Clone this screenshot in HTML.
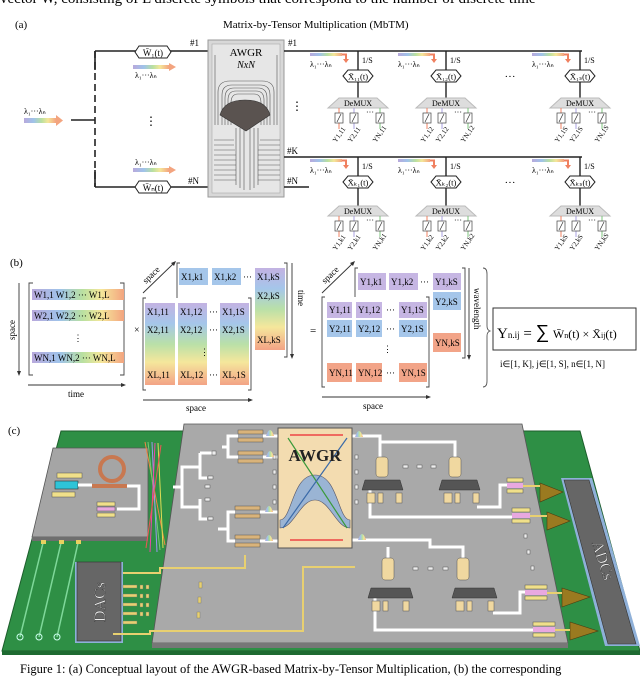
<!DOCTYPE html>
<html><head><meta charset="utf-8"><style>
html,body{margin:0;padding:0;background:#fff;}
svg{display:block;font-family:"Liberation Serif",serif;}
</style></head><body>
<svg width="640" height="676" viewBox="0 0 640 676" xmlns="http://www.w3.org/2000/svg">
<defs>
<linearGradient id="rb" x1="0" y1="0" x2="1" y2="0">
<stop offset="0" stop-color="#b8a9dc"/><stop offset="0.3" stop-color="#9fc3ea"/><stop offset="0.55" stop-color="#b9e0a0"/><stop offset="0.75" stop-color="#f5e79a"/><stop offset="1" stop-color="#f3a47f"/></linearGradient>
<linearGradient id="rv" x1="0" y1="0" x2="0" y2="1">
<stop offset="0" stop-color="#c3b2e2"/><stop offset="0.25" stop-color="#a5c6ea"/><stop offset="0.5" stop-color="#b9e0a8"/><stop offset="0.72" stop-color="#f5e79c"/><stop offset="1" stop-color="#f3a386"/></linearGradient>
</defs>

<text x="0" y="3" font-size="15">vector W, consisting of L discrete symbols that correspond to the number of discrete time</text>

<text x="15" y="28" font-size="11">(a)</text>
<text x="223" y="28" font-size="11">Matrix-by-Tensor Multiplication (MbTM)</text>

<rect x="24" y="118" width="32" height="5" fill="url(#rb)"/>
<polygon points="56,115 63,120.5 56,126" fill="#f3a47f"/>
<text x="24" y="114" font-size="8">λ₁···λₙ</text>
<line x1="71" y1="120" x2="95" y2="120" stroke="#222" stroke-width="1.6"/>
<line x1="95" y1="51" x2="95" y2="187" stroke="#222" stroke-width="1.6" stroke-dasharray="7,4"/>
<line x1="95" y1="51" x2="95" y2="70" stroke="#222" stroke-width="1.6"/>
<line x1="95" y1="170" x2="95" y2="187" stroke="#222" stroke-width="1.6"/>
<line x1="95" y1="51" x2="208" y2="51" stroke="#222" stroke-width="1.6"/>
<line x1="95" y1="187" x2="208" y2="187" stroke="#222" stroke-width="1.6"/>
<polygon points="135,52 139,46 167,46 171,52 167,58 139,58" fill="#fff" stroke="#222"/>
<text x="153" y="56" font-size="9" text-anchor="middle">W̄₁(t)</text>
<polygon points="135,187 139,181 167,181 171,187 167,193 139,193" fill="#fff" stroke="#222"/>
<text x="153" y="191" font-size="9" text-anchor="middle">W̄ₙ(t)</text>
<rect x="133" y="65" width="36" height="4" fill="url(#rb)"/><polygon points="169,63 176,67 169,71" fill="#f3a47f"/>
<text x="135" y="78" font-size="8">λ₁···λₙ</text>
<rect x="133" y="168" width="36" height="4" fill="url(#rb)"/><polygon points="169,166 176,170 169,174" fill="#f3a47f"/>
<text x="135" y="165" font-size="8">λ₁···λₙ</text>
<text x="151" y="125" font-size="12" text-anchor="middle">⋮</text>
<text x="190" y="46" font-size="9">#1</text>
<text x="188" y="184" font-size="9">#N</text>

<rect x="208" y="40" width="76" height="157" fill="#d8d8d8" stroke="#999"/>
<rect x="212" y="44" width="68" height="149" fill="#e6e6e6" stroke="#aaa" stroke-width="0.6"/>
<text x="246" y="56" font-size="11" text-anchor="middle">AWGR</text>
<text x="246" y="68" font-size="10" font-style="italic" text-anchor="middle">NxN</text>
<g fill="none" stroke="#555" stroke-width="0.6">
<path d="M222,125 V95 Q222,85 232,85 H260 Q270,85 270,95 V125"/>
<path d="M225,125 V98 Q225,88 234,88 H258 Q267,88 267,98 V125"/>
<path d="M228,125 V100 Q228,91 236,91 H256 Q264,91 264,100 V125"/>
<path d="M231,125 V103 Q231,94 238,94 H254 Q261,94 261,103 V125"/>
<path d="M218,125 V92 Q218,81 230,81 H262 Q274,81 274,92 V125"/>
<path d="M215,125 V55 M277,125 V55"/>
<path d="M236,128 V185 M240,128 V188 M244,128 V190 M250,128 V190 M254,128 V188 M258,128 V185"/>
<path d="M214,140 H234 M214,145 H234 M214,150 H235 M214,155 H236 M214,160 H236 M214,165 H236 M214,170 H236 M214,175 H236 M214,180 H236"/>
<path d="M260,140 H280 M259,145 H280 M258,150 H280 M258,155 H280 M258,160 H280 M258,165 H280 M258,170 H280 M258,175 H280 M258,180 H280"/>
</g>
<path d="M220,115 Q224,100 245,100 Q266,100 270,115 L246,131 Z" fill="#5a5350" stroke="#333" stroke-width="0.6"/>

<text x="288" y="46" font-size="9">#1</text>
<text x="287" y="154" font-size="9">#K</text>
<text x="287" y="184" font-size="9">#N</text>
<line x1="284" y1="51" x2="582" y2="51" stroke="#222" stroke-width="1.6"/>
<line x1="284" y1="157" x2="582" y2="157" stroke="#222" stroke-width="1.6"/>
<line x1="284" y1="187" x2="309" y2="187" stroke="#222" stroke-width="1.6"/>
<text x="297" y="110" font-size="12" text-anchor="middle">⋮</text>
<text x="510" y="80" font-size="11" text-anchor="middle">···</text>
<text x="510" y="186" font-size="11" text-anchor="middle">···</text>

<g font-size="8">
<g transform="translate(358,51)">
<line x1="0" y1="0" x2="0" y2="19" stroke="#222" stroke-width="1.4"/>
<rect x="-48" y="2" width="32" height="3" fill="url(#rb)"/><path d="M-16,3.5 H-12 V9" stroke="#f08060" stroke-width="2" fill="none"/><polygon points="-15,8 -9,8 -12,12" fill="#f08060"/>
<text x="-48" y="16" font-size="8">λ₁···λₙ</text><text x="4" y="12">1/S</text>
<polygon points="-15,25 -10,19 10,19 15,25 10,31 -10,31" fill="#fff" stroke="#222"/>
<text x="0" y="28.5" font-size="8.5" text-anchor="middle">X̄₁₁(t)</text>
<line x1="0" y1="31" x2="0" y2="47" stroke="#222" stroke-width="1.4"/>
<polygon points="-19,47 19,47 30,57 -30,57" fill="#ddd" stroke="#bbb"/>
<text x="0" y="55" font-size="8" text-anchor="middle">DeMUX</text>
<line x1="-19" y1="57" x2="-19" y2="78" stroke="#f08060"/><line x1="-4" y1="57" x2="-4" y2="78" stroke="#a9a0e0"/><line x1="22" y1="57" x2="22" y2="78" stroke="#7cc47c"/>
<g fill="#fff" stroke="#444" stroke-width="0.7"><rect x="-23" y="62" width="8" height="10"/><rect x="-8" y="62" width="8" height="10"/><rect x="18" y="62" width="8" height="10"/></g>
<g stroke="#333" stroke-width="0.7"><line x1="-21" y1="71" x2="-17" y2="63"/><line x1="-6" y1="71" x2="-2" y2="63"/><line x1="20" y1="71" x2="24" y2="63"/></g>
<text x="8" y="64">···</text>
<text transform="translate(-22,92) rotate(-55)" font-size="7">Y1,11</text><text transform="translate(-7,92) rotate(-55)" font-size="7">Y2,11</text><text transform="translate(18,92) rotate(-55)" font-size="7">YN,11</text>
</g>
<g transform="translate(446,51)">
<line x1="0" y1="0" x2="0" y2="19" stroke="#222" stroke-width="1.4"/>
<rect x="-48" y="2" width="32" height="3" fill="url(#rb)"/><path d="M-16,3.5 H-12 V9" stroke="#f08060" stroke-width="2" fill="none"/><polygon points="-15,8 -9,8 -12,12" fill="#f08060"/>
<text x="-48" y="16" font-size="8">λ₁···λₙ</text><text x="4" y="12">1/S</text>
<polygon points="-15,25 -10,19 10,19 15,25 10,31 -10,31" fill="#fff" stroke="#222"/>
<text x="0" y="28.5" font-size="8.5" text-anchor="middle">X̄₁₂(t)</text>
<line x1="0" y1="31" x2="0" y2="47" stroke="#222" stroke-width="1.4"/>
<polygon points="-19,47 19,47 30,57 -30,57" fill="#ddd" stroke="#bbb"/>
<text x="0" y="55" font-size="8" text-anchor="middle">DeMUX</text>
<line x1="-19" y1="57" x2="-19" y2="78" stroke="#f08060"/><line x1="-4" y1="57" x2="-4" y2="78" stroke="#a9a0e0"/><line x1="22" y1="57" x2="22" y2="78" stroke="#7cc47c"/>
<g fill="#fff" stroke="#444" stroke-width="0.7"><rect x="-23" y="62" width="8" height="10"/><rect x="-8" y="62" width="8" height="10"/><rect x="18" y="62" width="8" height="10"/></g>
<g stroke="#333" stroke-width="0.7"><line x1="-21" y1="71" x2="-17" y2="63"/><line x1="-6" y1="71" x2="-2" y2="63"/><line x1="20" y1="71" x2="24" y2="63"/></g>
<text x="8" y="64">···</text>
<text transform="translate(-22,92) rotate(-55)" font-size="7">Y1,12</text><text transform="translate(-7,92) rotate(-55)" font-size="7">Y2,12</text><text transform="translate(18,92) rotate(-55)" font-size="7">YN,12</text>
</g>
<g transform="translate(580,51)">
<line x1="0" y1="0" x2="0" y2="19" stroke="#222" stroke-width="1.4"/>
<rect x="-48" y="2" width="32" height="3" fill="url(#rb)"/><path d="M-16,3.5 H-12 V9" stroke="#f08060" stroke-width="2" fill="none"/><polygon points="-15,8 -9,8 -12,12" fill="#f08060"/>
<text x="-48" y="16" font-size="8">λ₁···λₙ</text><text x="4" y="12">1/S</text>
<polygon points="-15,25 -10,19 10,19 15,25 10,31 -10,31" fill="#fff" stroke="#222"/>
<text x="0" y="28.5" font-size="8.5" text-anchor="middle">X̄₁ₛ(t)</text>
<line x1="0" y1="31" x2="0" y2="47" stroke="#222" stroke-width="1.4"/>
<polygon points="-19,47 19,47 30,57 -30,57" fill="#ddd" stroke="#bbb"/>
<text x="0" y="55" font-size="8" text-anchor="middle">DeMUX</text>
<line x1="-19" y1="57" x2="-19" y2="78" stroke="#f08060"/><line x1="-4" y1="57" x2="-4" y2="78" stroke="#a9a0e0"/><line x1="22" y1="57" x2="22" y2="78" stroke="#7cc47c"/>
<g fill="#fff" stroke="#444" stroke-width="0.7"><rect x="-23" y="62" width="8" height="10"/><rect x="-8" y="62" width="8" height="10"/><rect x="18" y="62" width="8" height="10"/></g>
<g stroke="#333" stroke-width="0.7"><line x1="-21" y1="71" x2="-17" y2="63"/><line x1="-6" y1="71" x2="-2" y2="63"/><line x1="20" y1="71" x2="24" y2="63"/></g>
<text x="8" y="64">···</text>
<text transform="translate(-22,92) rotate(-55)" font-size="7">Y1,1S</text><text transform="translate(-7,92) rotate(-55)" font-size="7">Y2,1S</text><text transform="translate(18,92) rotate(-55)" font-size="7">YN,1S</text>
</g>
<g transform="translate(358,157)">
<line x1="0" y1="0" x2="0" y2="19" stroke="#222" stroke-width="1.4"/>
<rect x="-48" y="2" width="32" height="3" fill="url(#rb)"/><path d="M-16,3.5 H-12 V9" stroke="#f08060" stroke-width="2" fill="none"/><polygon points="-15,8 -9,8 -12,12" fill="#f08060"/>
<text x="-48" y="16" font-size="8">λ₁···λₙ</text><text x="4" y="12">1/S</text>
<polygon points="-15,25 -10,19 10,19 15,25 10,31 -10,31" fill="#fff" stroke="#222"/>
<text x="0" y="28.5" font-size="8.5" text-anchor="middle">X̄ₖ₁(t)</text>
<line x1="0" y1="31" x2="0" y2="49" stroke="#222" stroke-width="1.4"/>
<polygon points="-19,49 19,49 30,59 -30,59" fill="#ddd" stroke="#bbb"/>
<text x="0" y="57" font-size="8" text-anchor="middle">DeMUX</text>
<line x1="-19" y1="59" x2="-19" y2="80" stroke="#f08060"/><line x1="-4" y1="59" x2="-4" y2="80" stroke="#a9a0e0"/><line x1="22" y1="59" x2="22" y2="80" stroke="#7cc47c"/>
<g fill="#fff" stroke="#444" stroke-width="0.7"><rect x="-23" y="64" width="8" height="10"/><rect x="-8" y="64" width="8" height="10"/><rect x="18" y="64" width="8" height="10"/></g>
<g stroke="#333" stroke-width="0.7"><line x1="-21" y1="73" x2="-17" y2="65"/><line x1="-6" y1="73" x2="-2" y2="65"/><line x1="20" y1="73" x2="24" y2="65"/></g>
<text x="8" y="66">···</text>
<text transform="translate(-22,94) rotate(-55)" font-size="7">Y1,k1</text><text transform="translate(-7,94) rotate(-55)" font-size="7">Y2,k1</text><text transform="translate(18,94) rotate(-55)" font-size="7">YN,k1</text>
</g>
<g transform="translate(446,157)">
<line x1="0" y1="0" x2="0" y2="19" stroke="#222" stroke-width="1.4"/>
<rect x="-48" y="2" width="32" height="3" fill="url(#rb)"/><path d="M-16,3.5 H-12 V9" stroke="#f08060" stroke-width="2" fill="none"/><polygon points="-15,8 -9,8 -12,12" fill="#f08060"/>
<text x="-48" y="16" font-size="8">λ₁···λₙ</text><text x="4" y="12">1/S</text>
<polygon points="-15,25 -10,19 10,19 15,25 10,31 -10,31" fill="#fff" stroke="#222"/>
<text x="0" y="28.5" font-size="8.5" text-anchor="middle">X̄ₖ₂(t)</text>
<line x1="0" y1="31" x2="0" y2="49" stroke="#222" stroke-width="1.4"/>
<polygon points="-19,49 19,49 30,59 -30,59" fill="#ddd" stroke="#bbb"/>
<text x="0" y="57" font-size="8" text-anchor="middle">DeMUX</text>
<line x1="-19" y1="59" x2="-19" y2="80" stroke="#f08060"/><line x1="-4" y1="59" x2="-4" y2="80" stroke="#a9a0e0"/><line x1="22" y1="59" x2="22" y2="80" stroke="#7cc47c"/>
<g fill="#fff" stroke="#444" stroke-width="0.7"><rect x="-23" y="64" width="8" height="10"/><rect x="-8" y="64" width="8" height="10"/><rect x="18" y="64" width="8" height="10"/></g>
<g stroke="#333" stroke-width="0.7"><line x1="-21" y1="73" x2="-17" y2="65"/><line x1="-6" y1="73" x2="-2" y2="65"/><line x1="20" y1="73" x2="24" y2="65"/></g>
<text x="8" y="66">···</text>
<text transform="translate(-22,94) rotate(-55)" font-size="7">Y1,k2</text><text transform="translate(-7,94) rotate(-55)" font-size="7">Y2,k2</text><text transform="translate(18,94) rotate(-55)" font-size="7">YN,k2</text>
</g>
<g transform="translate(580,157)">
<line x1="0" y1="0" x2="0" y2="19" stroke="#222" stroke-width="1.4"/>
<rect x="-48" y="2" width="32" height="3" fill="url(#rb)"/><path d="M-16,3.5 H-12 V9" stroke="#f08060" stroke-width="2" fill="none"/><polygon points="-15,8 -9,8 -12,12" fill="#f08060"/>
<text x="-48" y="16" font-size="8">λ₁···λₙ</text><text x="4" y="12">1/S</text>
<polygon points="-15,25 -10,19 10,19 15,25 10,31 -10,31" fill="#fff" stroke="#222"/>
<text x="0" y="28.5" font-size="8.5" text-anchor="middle">X̄ₖₛ(t)</text>
<line x1="0" y1="31" x2="0" y2="49" stroke="#222" stroke-width="1.4"/>
<polygon points="-19,49 19,49 30,59 -30,59" fill="#ddd" stroke="#bbb"/>
<text x="0" y="57" font-size="8" text-anchor="middle">DeMUX</text>
<line x1="-19" y1="59" x2="-19" y2="80" stroke="#f08060"/><line x1="-4" y1="59" x2="-4" y2="80" stroke="#a9a0e0"/><line x1="22" y1="59" x2="22" y2="80" stroke="#7cc47c"/>
<g fill="#fff" stroke="#444" stroke-width="0.7"><rect x="-23" y="64" width="8" height="10"/><rect x="-8" y="64" width="8" height="10"/><rect x="18" y="64" width="8" height="10"/></g>
<g stroke="#333" stroke-width="0.7"><line x1="-21" y1="73" x2="-17" y2="65"/><line x1="-6" y1="73" x2="-2" y2="65"/><line x1="20" y1="73" x2="24" y2="65"/></g>
<text x="8" y="66">···</text>
<text transform="translate(-22,94) rotate(-55)" font-size="7">Y1,kS</text><text transform="translate(-7,94) rotate(-55)" font-size="7">Y2,kS</text><text transform="translate(18,94) rotate(-55)" font-size="7">YN,kS</text>
</g>
</g>

<text x="10" y="266" font-size="11">(b)</text>
<g font-size="9" stroke-width="0.9">
<path d="M33,283 h-4 v92 h4 M120,283 h4 v92 h-4" fill="none" stroke="#444"/>
<rect x="32" y="289" width="92" height="11" fill="url(#rb)"/>
<rect x="32" y="310" width="92" height="11" fill="url(#rb)"/>
<rect x="32" y="352" width="92" height="11" fill="url(#rb)"/>
<text x="34" y="298">W1,1 W1,2 ··· W1,L</text>
<text x="34" y="319">W2,1 W2,2 ··· W2,L</text>
<text x="78" y="341" text-anchor="middle">⋮</text>
<text x="34" y="361">WN,1 WN,2 ··· WN,L</text>
<line x1="19" y1="283" x2="19" y2="373" stroke="#333"/><polygon points="17,371 21,371 19,376" fill="#333"/>
<text transform="translate(15,340) rotate(-90)" font-size="9">space</text>
<line x1="28" y1="385" x2="122" y2="385" stroke="#333"/><polygon points="121,383 126,385 121,387" fill="#333"/>
<text x="68" y="397">time</text>
<text x="134" y="333" font-size="10">×</text>
<path d="M180,263 h-3 v94 M284,263 h3 v94 h-3" fill="none" stroke="#444"/>
<rect x="179" y="268" width="29" height="17" fill="#a5c6ea"/><rect x="212" y="268" width="29" height="17" fill="#a5c6ea"/>
<rect x="255" y="268" width="30" height="82" fill="url(#rv)"/>
<text x="181" y="280">X1,k1</text><text x="214" y="280">X1,k2</text><text x="243" y="280">···</text><text x="257" y="280">X1,kS</text>
<text x="257" y="299">X2,kS</text><text x="257" y="343">XL,kS</text>
<line x1="143" y1="293" x2="173" y2="264" stroke="#333"/><polygon points="171,263 176,261 174,266" fill="#333"/>
<text transform="translate(146,284) rotate(-44)" font-size="9">space</text>
<line x1="292" y1="263" x2="292" y2="355" stroke="#333"/><polygon points="290,354 294,354 292,359" fill="#333"/>
<text transform="translate(298,290) rotate(90)" font-size="9">time</text>
<rect x="143" y="298" width="108" height="92" fill="#fff"/>
<path d="M146,298 h-3 v92 h3 M248,298 h3 v92 h-3" fill="none" stroke="#444"/>
<rect x="145" y="303" width="30" height="82" fill="url(#rv)"/><rect x="178" y="303" width="29" height="82" fill="url(#rv)"/><rect x="220" y="303" width="29" height="82" fill="url(#rv)"/>
<text x="147" y="315">X1,11</text><text x="180" y="315">X1,12</text><text x="209" y="315">···</text><text x="222" y="315">X1,1S</text>
<text x="147" y="333">X2,11</text><text x="180" y="333">X2,12</text><text x="209" y="333">···</text><text x="222" y="333">X2,1S</text>
<text x="200" y="355">⋮</text>
<text x="147" y="378">XL,11</text><text x="180" y="378">XL,12</text><text x="209" y="378">···</text><text x="222" y="378">XL,1S</text>
<line x1="143" y1="400" x2="249" y2="400" stroke="#333"/><polygon points="248,398 253,400 248,402" fill="#333"/>
<text x="186" y="411">space</text>
<text x="310" y="334" font-size="11">=</text>
<path d="M358,268 h-3 v90 M462,268 h3 v90 h-3" fill="none" stroke="#444"/>
<rect x="358" y="273" width="28" height="17" fill="#c6b6e3"/><rect x="389" y="273" width="29" height="17" fill="#c6b6e3"/><rect x="433" y="273" width="28" height="17" fill="#c6b6e3"/>
<rect x="433" y="292" width="28" height="18" fill="#a5c6ea"/><rect x="433" y="333" width="28" height="19" fill="#f2a488"/>
<text x="360" y="285">Y1,k1</text><text x="391" y="285">Y1,k2</text><text x="420" y="285">···</text><text x="435" y="285">Y1,kS</text>
<text x="435" y="305">Y2,kS</text><text x="435" y="346">YN,kS</text>
<line x1="322" y1="293" x2="352" y2="264" stroke="#333"/><polygon points="350,263 355,261 353,266" fill="#333"/>
<text transform="translate(325,284) rotate(-44)" font-size="9">space</text>
<line x1="469" y1="268" x2="469" y2="356" stroke="#333"/><polygon points="467,355 471,355 469,360" fill="#333"/>
<text transform="translate(474,288) rotate(90)" font-size="9">wavelength</text>
<path d="M483,268 q4,0 4,6 v52 q0,4 3,5 q-3,1 -3,5 v45 q0,6 -4,6" fill="none" stroke="#555"/>
<rect x="322" y="297" width="107" height="90" fill="#fff"/>
<path d="M325,297 h-3 v90 h3 M426,297 h3 v90 h-3" fill="none" stroke="#444"/>
<rect x="327" y="302" width="25" height="16" fill="#c6b6e3"/><rect x="356" y="302" width="26" height="16" fill="#c6b6e3"/><rect x="399" y="302" width="28" height="16" fill="#c6b6e3"/>
<rect x="327" y="320" width="25" height="17" fill="#a5c6ea"/><rect x="356" y="320" width="26" height="17" fill="#a5c6ea"/><rect x="399" y="320" width="28" height="17" fill="#a5c6ea"/>
<rect x="327" y="363" width="25" height="19" fill="#f2a488"/><rect x="356" y="363" width="26" height="19" fill="#f2a488"/><rect x="399" y="363" width="28" height="19" fill="#f2a488"/>
<text x="329" y="313">Y1,11</text><text x="358" y="313">Y1,12</text><text x="386" y="313">···</text><text x="401" y="313">Y1,1S</text>
<text x="329" y="332">Y2,11</text><text x="358" y="332">Y2,12</text><text x="386" y="332">···</text><text x="401" y="332">Y2,1S</text>
<text x="383" y="352">⋮</text>
<text x="329" y="376">YN,11</text><text x="358" y="376">YN,12</text><text x="386" y="376">···</text><text x="401" y="376">YN,1S</text>
<line x1="322" y1="397" x2="427" y2="397" stroke="#333"/><polygon points="426,395 431,397 426,399" fill="#333"/>
<text x="363" y="409">space</text>
</g>
<rect x="493" y="308" width="143" height="42" fill="#fff" stroke="#333"/>
<text x="497" y="338" font-size="15">Y<tspan font-size="9">n.ij</tspan> = <tspan font-family="Liberation Sans,sans-serif" font-size="19">∑</tspan> <tspan font-size="12">W̄<tspan font-size="8">n</tspan>(t) × X̄<tspan font-size="8">ij</tspan>(t)</tspan></text>
<text x="500" y="367" font-size="9">i∈[1, K], j∈[1, S], n∈[1, N]</text>

<text x="8" y="434" font-size="11">(c)</text>
<polygon points="61,431 580,431 640,651 2,651" fill="#2e8f45" stroke="#1d5e2c"/>
<polygon points="2,651 640,651 640,655 2,655" fill="#1e6a31"/>
<polygon points="184,424 522,424 568,643 152,643" fill="#a9a9a9" stroke="#555" stroke-width="0.8"/>
<polygon points="152,643 568,643 568,648 152,648" fill="#777"/>
<polygon points="53,448 148,448 148,537 32,537" fill="#a5a5a5" stroke="#555" stroke-width="0.8"/>
<polygon points="32,537 148,537 148,541 32,541" fill="#6e6e6e"/>
<circle cx="112" cy="469" r="12" fill="none" stroke="#c87850" stroke-width="4"/>
<rect x="92" y="484" width="35" height="4" fill="#c87850"/>
<rect x="55" y="481" width="23" height="8" fill="#2ec4d8" stroke="#333" stroke-width="0.6"/>
<rect x="57" y="473" width="25" height="5" fill="#f0e08a" stroke="#555" stroke-width="0.5"/>
<rect x="52" y="492" width="23" height="5" fill="#f0e08a" stroke="#555" stroke-width="0.5"/>
<path d="M78,485 H92 M127,486 H139 V509 H117" fill="none" stroke="#fff" stroke-width="3"/>
<rect x="97" y="507" width="18" height="4" fill="#e8a8e0" stroke="#555" stroke-width="0.5"/>
<rect x="97" y="502" width="18" height="4" fill="#f0e08a" stroke="#555" stroke-width="0.5"/>
<rect x="97" y="513" width="18" height="4" fill="#f0e08a" stroke="#555" stroke-width="0.5"/>
<g stroke-width="1"><line x1="145" y1="442" x2="165" y2="545" stroke="#e84"/><line x1="148" y1="442" x2="160" y2="550" stroke="#7c7"/><line x1="152" y1="442" x2="157" y2="552" stroke="#99e"/><line x1="155" y1="443" x2="150" y2="552" stroke="#e4a"/><line x1="158" y1="443" x2="163" y2="548" stroke="#dd5"/><line x1="161" y1="445" x2="146" y2="548" stroke="#e55"/></g>
<g stroke="#7fd89a" stroke-width="1.5" fill="none"><path d="M43,543 L20,637"/><path d="M61,543 L39,637"/><path d="M78,543 L57,637"/></g>
<g fill="none" stroke="#cfe" stroke-width="1"><circle cx="20" cy="637" r="3"/><circle cx="39" cy="637" r="3"/><circle cx="57" cy="637" r="3"/></g>
<g fill="#e8d060"><rect x="41" y="540" width="5" height="4"/><rect x="59" y="540" width="5" height="4"/><rect x="76" y="540" width="5" height="4"/></g>
<rect x="75" y="562" width="48" height="81" fill="#8fb0d8"/>
<rect x="77" y="562" width="44" height="79" fill="#666" stroke="#333" stroke-width="0.6"/>
<text transform="translate(105,602) rotate(-90)" font-size="16" fill="#eee" text-anchor="middle" stroke="#333" stroke-width="0.4">DACs</text>
<g fill="#e8d070" stroke="#776" stroke-width="0.4">
<rect x="123" y="585" width="14" height="3"/><rect x="123" y="594" width="14" height="3"/><rect x="123" y="603" width="14" height="3"/><rect x="123" y="612" width="14" height="3"/><rect x="123" y="621" width="14" height="3"/>
<rect x="140" y="585" width="3" height="4"/><rect x="146" y="585" width="3" height="4"/><rect x="140" y="594" width="3" height="4"/><rect x="146" y="594" width="3" height="4"/><rect x="140" y="603" width="3" height="4"/><rect x="146" y="603" width="3" height="4"/><rect x="140" y="612" width="3" height="4"/><rect x="146" y="612" width="3" height="4"/>
<rect x="199" y="582" width="3" height="6"/><rect x="198" y="597" width="3" height="6"/><rect x="197" y="612" width="3" height="6"/>
</g>
<path d="M123,573 H160 V568 H245 V555" fill="none" stroke="#e8d070" stroke-width="2"/>
<path d="M113,634 H150 V631 H303 V567 H355" fill="none" stroke="#e8d070" stroke-width="2"/>
<g fill="none" stroke="#fff" stroke-width="3">
<path d="M173,487 H182 V467 H200 V453 M200,467 V478 H207"/>
<path d="M182,487 V507 H200 V499 M200,507 V519 H207"/>
<path d="M200,453 H212"/>
<path d="M222,447 H228 V436 H238 M228,447 V457 H238"/>
<path d="M218,529 H228 V512 H235 M228,529 V541 H235"/>
<path d="M263,436 H278 M263,457 H278 M260,512 H278 M260,541 H278"/>
<path d="M352,436 H380 V442 H455 V458 M380,442 V458"/>
<path d="M352,540 H430 V547 H463 V558 M388,547 V558"/>
<path d="M370,490 V517 H512 M477,507 H500 V485 H507"/>
<path d="M375,597 V630 H533 M493,613 H520 V592 H525"/>
</g>
<g fill="#d9b37a" stroke="#555" stroke-width="0.5">
<rect x="238" y="430" width="25" height="4"/><rect x="238" y="438" width="25" height="4"/>
<rect x="238" y="451" width="25" height="4"/><rect x="238" y="459" width="25" height="4"/>
<rect x="235" y="506" width="25" height="4"/><rect x="235" y="514" width="25" height="4"/>
<rect x="235" y="535" width="25" height="4"/><rect x="235" y="543" width="25" height="4"/>
</g>
<g fill="#eee" stroke="#555" stroke-width="0.5">
<rect x="208" y="476" width="5" height="3"/><rect x="208" y="517" width="5" height="3"/><rect x="212" y="451" width="4" height="4"/><rect x="205" y="485" width="5" height="3"/><rect x="205" y="498" width="5" height="3"/>
<rect x="273" y="455" width="3" height="4"/><rect x="273" y="470" width="3" height="4"/><rect x="273" y="485" width="3" height="4"/><rect x="273" y="500" width="3" height="4"/>
<rect x="355" y="455" width="3" height="4"/><rect x="355" y="470" width="3" height="4"/><rect x="355" y="485" width="3" height="4"/><rect x="355" y="500" width="3" height="4"/>
<rect x="403" y="465" width="5" height="3"/><rect x="417" y="465" width="5" height="3"/><rect x="431" y="465" width="5" height="3"/>
<rect x="413" y="567" width="5" height="3"/><rect x="428" y="567" width="5" height="3"/><rect x="443" y="567" width="5" height="3"/>
<rect x="524" y="534" width="3" height="4"/><rect x="527" y="550" width="3" height="4"/><rect x="531" y="566" width="3" height="4"/>
</g>
<g><path d="M266,436 q4,-12 8,0 z" fill="url(#rb)"/><path d="M266,457 q4,-12 8,0 z" fill="url(#rb)"/><path d="M265,512 q4,-12 8,0 z" fill="url(#rb)"/><path d="M265,541 q4,-12 8,0 z" fill="url(#rb)"/><path d="M355,437 q4,-12 8,0 z" fill="url(#rb)"/><path d="M358,540 q4,-12 8,0 z" fill="url(#rb)"/></g>
<rect x="278" y="428" width="74" height="120" fill="#f3dcb0" stroke="#555"/>
<line x1="290" y1="435" x2="343" y2="435" stroke="#e44" stroke-width="1.5"/>
<line x1="290" y1="540" x2="343" y2="540" stroke="#e44" stroke-width="1.5"/>
<path d="M280,520 C292,520 292,475 315,475 C338,475 338,520 350,520 L350,528 C336,528 330,500 315,500 C300,500 294,528 280,528 Z" fill="#9ab4d4" stroke="#556" stroke-width="0.6"/>
<line x1="288" y1="438" x2="347" y2="528" stroke="#3a9a3a" stroke-width="1.2"/>
<line x1="347" y1="438" x2="283" y2="528" stroke="#3a6aa8" stroke-width="1.2"/>
<text x="315" y="461" font-size="17" font-weight="bold" text-anchor="middle" fill="#222">AWGR</text>
<g fill="#f0d8a0" stroke="#555" stroke-width="0.5">
<rect x="376" y="457" width="12" height="20" rx="3"/><rect x="449" y="457" width="12" height="20" rx="3"/>
<rect x="382" y="558" width="12" height="22" rx="3"/><rect x="457" y="558" width="12" height="22" rx="3"/>
<rect x="367" y="493" width="8" height="10"/><rect x="378" y="493" width="5" height="10"/><rect x="396" y="493" width="6" height="10"/>
<rect x="444" y="493" width="8" height="10"/><rect x="455" y="493" width="5" height="10"/><rect x="473" y="493" width="6" height="10"/>
<rect x="372" y="601" width="8" height="10"/><rect x="383" y="601" width="5" height="10"/><rect x="403" y="601" width="6" height="10"/>
<rect x="456" y="601" width="8" height="10"/><rect x="467" y="601" width="5" height="10"/><rect x="488" y="601" width="6" height="10"/>
</g>
<g fill="#555" stroke="#333" stroke-width="0.5">
<polygon points="365,480 400,480 403,490 362,490"/><polygon points="442,480 477,480 480,490 439,490"/>
<polygon points="371,588 410,588 413,598 368,598"/><polygon points="455,588 494,588 497,598 452,598"/>
</g>
<g fill="#f0e08a" stroke="#555" stroke-width="0.5">
<rect x="507" y="478" width="16" height="4"/><rect x="507" y="489" width="16" height="4"/>
<rect x="512" y="508" width="18" height="4"/><rect x="512" y="519" width="18" height="4"/>
<rect x="525" y="585" width="22" height="4"/><rect x="525" y="596" width="22" height="4"/>
<rect x="533" y="622" width="22" height="4"/><rect x="533" y="633" width="22" height="4"/>
</g>
<g fill="#e8a8e0"><rect x="507" y="483" width="16" height="5"/><rect x="512" y="513" width="18" height="5"/><rect x="525" y="590" width="22" height="5"/><rect x="533" y="627" width="22" height="5"/></g>
<g fill="#9a7a20" stroke="#4a3a10" stroke-width="0.6">
<polygon points="540,483 563,492 540,502"/><polygon points="547,512 570,521 547,530"/>
<polygon points="562,588 590,597 562,607"/><polygon points="570,622 598,631 570,640"/>
</g>
<g stroke="#e8d070" stroke-width="2"><line x1="523" y1="486" x2="540" y2="486"/><line x1="530" y1="516" x2="547" y2="516"/><line x1="547" y1="593" x2="562" y2="593"/><line x1="555" y1="630" x2="570" y2="630"/></g>
<polygon points="561,478 592,478 640,646 605,646" fill="#8fb0d8"/>
<polygon points="564,480 589,480 636,644 608,644" fill="#666" stroke="#333" stroke-width="0.6"/>
<text transform="translate(598,562) rotate(72)" font-size="16" fill="#eee" text-anchor="middle" stroke="#333" stroke-width="0.4">ADCs</text>

<text x="20" y="673" font-size="12.5">Figure 1: (a) Conceptual layout of the AWGR-based Matrix-by-Tensor Multiplication, (b) the corresponding</text>
</svg>
</body></html>
